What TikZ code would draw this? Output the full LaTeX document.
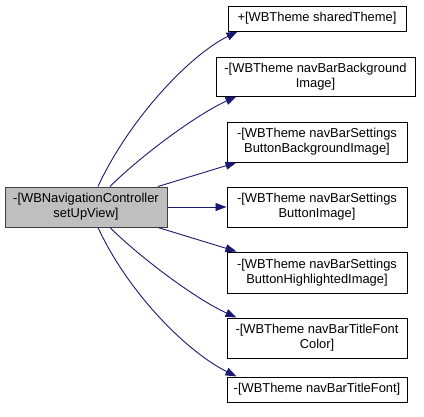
\documentclass[tikz,border=0pt]{standalone}
\usepackage{fontspec}
\setmainfont{Liberation Sans}
\usetikzlibrary{arrows.meta}
\definecolor{edgeblue}{HTML}{191970}
\definecolor{srcgrey}{HTML}{BFBFBF}
\definecolor{srcline}{HTML}{404040}

\begin{document}
\begin{tikzpicture}[x=1pt, y=-1pt,
    fn/.style={draw=black, line width=1pt, fill=white, align=center, inner sep=0pt,
        minimum width=180pt, minimum height=40pt, font=\fontsize{12.9}{15}\selectfont},
    call/.style={draw=edgeblue, line width=0.9pt, -{Triangle[length=11pt, width=8pt]}, edgeblue}]
    \useasboundingbox (0,0) rectangle (424,416);

    \node[fn, fill=srcgrey, draw=srcline, minimum width=162pt] (setup) at (86,207) {-[WBNavigationController\\setUpView]};
    \node[fn, minimum width=178pt, minimum height=25pt] (shared) at (317,18.5) {+[WBTheme sharedTheme]};
    \node[fn, minimum width=199pt, minimum height=39pt] (bgimg) at (315.5,76.5) {-[WBTheme navBarBackground\\Image]};
    \node[fn] (btnbg) at (317,142) {-[WBTheme navBarSettings\\ButtonBackgroundImage]};
    \node[fn] (btnimg) at (317,207) {-[WBTheme navBarSettings\\ButtonImage]};
    \node[fn, minimum height=41pt] (btnhl) at (317,272.5) {-[WBTheme navBarSettings\\ButtonHighlightedImage]};
    \node[fn] (titlecolor) at (317,338) {-[WBTheme navBarTitleFont\\Color]};
    \node[fn, minimum height=25pt] (titlefont) at (317,389.5) {-[WBTheme navBarTitleFont]};

    % calls above
    \draw[call] ([xshift=12pt]setup.north) .. controls +(30,-65) and +(-50,25) .. ([xshift=10pt]shared.south west);
    \draw[call] ([xshift=24pt]setup.north) .. controls +(30,-30) and +(-40,18) .. ([xshift=21pt]bgimg.south west);
    \draw[call] ([xshift=72pt]setup.north) -- ([xshift=10pt]btnbg.south west);
    % straight across
    \draw[call] (setup.east) -- (btnimg.west);
    % calls below
    \draw[call] ([xshift=72pt]setup.south) -- ([xshift=10pt]btnhl.north west);
    \draw[call] ([xshift=24pt]setup.south) .. controls +(30,30) and +(-40,-18) .. ([xshift=10pt]titlecolor.north west);
    \draw[call] ([xshift=12pt]setup.south) .. controls +(30,65) and +(-50,-25) .. ([xshift=10pt]titlefont.north west);
\end{tikzpicture}
\end{document}
